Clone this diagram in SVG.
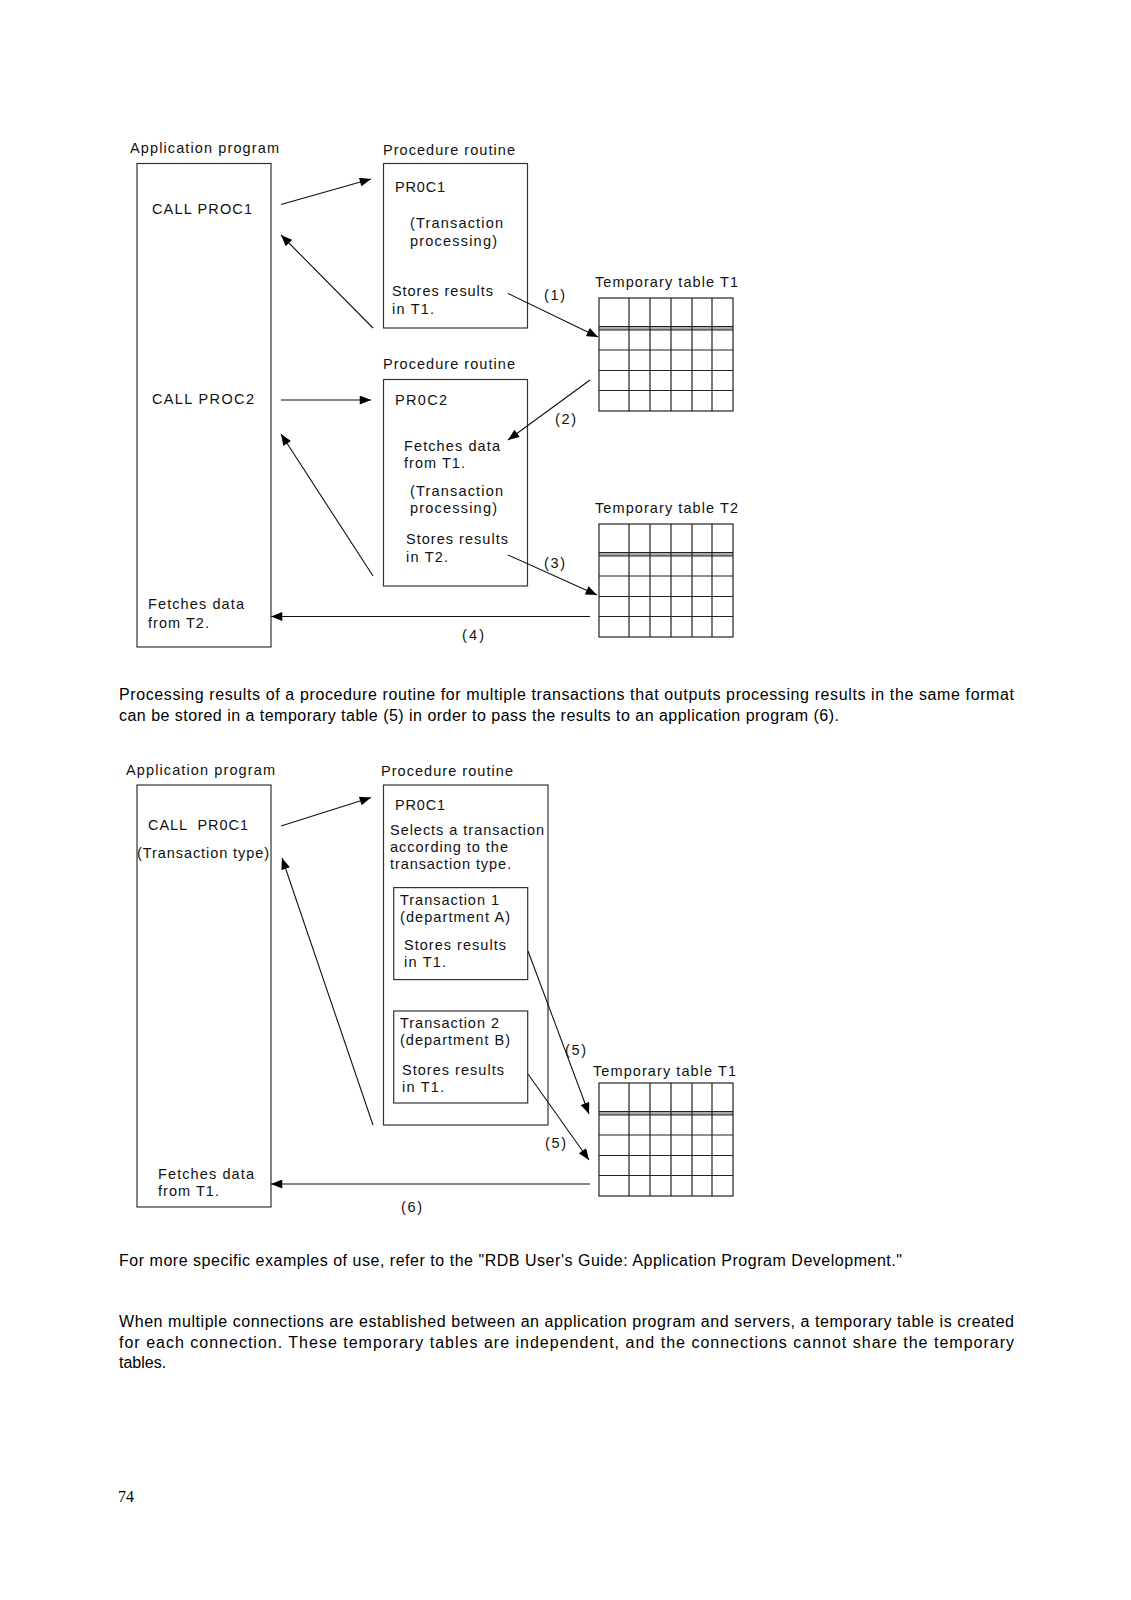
<svg xmlns="http://www.w3.org/2000/svg" width="1131" height="1600" viewBox="0 0 1131 1600">
<defs>
<style>
.lbl{font-family:"Liberation Sans",Arial,sans-serif;font-size:14.5px;fill:#111}
.para{font-family:"Liberation Sans",Arial,sans-serif;font-size:16px;fill:#000}
.pg{font-family:"Liberation Serif","Times New Roman",serif;font-size:16px;fill:#000}
.box{fill:none;stroke:#333;stroke-width:1.2}
.grid{stroke:#222;stroke-width:1.2;fill:none}
.conn{stroke:#111;stroke-width:1.1;fill:none;marker-end:url(#ah)}
</style>
<marker id="ah" viewBox="0 0 10 8" refX="10" refY="4" markerWidth="12" markerHeight="9" markerUnits="userSpaceOnUse" orient="auto"><path d="M0,0 L10,4 L0,8 z" fill="#000"/></marker>
<g id="tbl">
<rect x="0" y="29" width="134" height="3" fill="#aaa"/>
<rect x="0" y="0" width="134" height="113" class="grid"/>
<path class="grid" d="M0,28.5 H134 M0,32 H134 M0,52 H134 M0,72.5 H134 M0,92.5 H134 M30,0 V113 M51,0 V113 M72,0 V113 M93,0 V113 M113,0 V113"/>
</g>
</defs>
<rect width="1131" height="1600" fill="#fff"/>

<!-- Diagram 1 -->
<g id="app1">
<text class="lbl" x="130" y="153" textLength="149">Application program</text>
<rect class="box" x="137" y="163.5" width="134" height="483.5"/>
<text class="lbl" x="152" y="214" textLength="100">CALL PROC1</text>
<text class="lbl" x="152" y="404" textLength="102">CALL PROC2</text>
<text class="lbl" x="148" y="609" textLength="96">Fetches data</text>
<text class="lbl" x="148" y="628" textLength="61">from T2.</text>
</g>
<g id="proc1">
<text class="lbl" x="383" y="155" textLength="132">Procedure routine</text>
<rect class="box" x="383.5" y="163.5" width="144" height="164.5"/>
<text class="lbl" x="395" y="192" textLength="50">PR0C1</text>
<text class="lbl" x="410" y="228" textLength="93">(Transaction</text>
<text class="lbl" x="410" y="246" textLength="87">processing)</text>
<text class="lbl" x="392" y="296" textLength="101">Stores results</text>
<text class="lbl" x="392" y="314" textLength="42">in T1.</text>
</g>
<g id="proc2">
<text class="lbl" x="383" y="369" textLength="132">Procedure routine</text>
<rect class="box" x="383.5" y="379.5" width="144" height="206.5"/>
<text class="lbl" x="395" y="405" textLength="52">PR0C2</text>
<text class="lbl" x="404" y="451" textLength="96">Fetches data</text>
<text class="lbl" x="404" y="468" textLength="61">from T1.</text>
<text class="lbl" x="410" y="496" textLength="93">(Transaction</text>
<text class="lbl" x="410" y="513" textLength="87">processing)</text>
<text class="lbl" x="406" y="544" textLength="102">Stores results</text>
<text class="lbl" x="406" y="562" textLength="42">in T2.</text>
</g>
<g id="t1a">
<text class="lbl" x="595" y="287" textLength="143">Temporary table T1</text>
<use href="#tbl" x="599" y="298"/>
</g>
<g id="t2">
<text class="lbl" x="595" y="513" textLength="143">Temporary table T2</text>
<use href="#tbl" x="599" y="524"/>
</g>

<!-- Diagram 2 -->
<g id="app2">
<text class="lbl" x="126" y="775" textLength="149">Application program</text>
<rect class="box" x="137" y="785" width="134" height="422"/>
<text class="lbl" x="148" y="830" textLength="100" xml:space="preserve">CALL  PR0C1</text>
<text class="lbl" x="137" y="858" textLength="132">(Transaction type)</text>
<text class="lbl" x="158" y="1179" textLength="96">Fetches data</text>
<text class="lbl" x="158" y="1196" textLength="61">from T1.</text>
</g>
<g id="proc3">
<text class="lbl" x="381" y="776" textLength="132">Procedure routine</text>
<rect class="box" x="383.5" y="785" width="164.5" height="340"/>
<text class="lbl" x="395" y="810" textLength="50">PR0C1</text>
<text class="lbl" x="390" y="835" textLength="154">Selects a transaction</text>
<text class="lbl" x="390" y="852" textLength="118">according to the</text>
<text class="lbl" x="390" y="869" textLength="121">transaction type.</text>
</g>
<g id="tx1">
<rect class="box" x="393.7" y="887.6" width="134" height="92"/>
<text class="lbl" x="400" y="905" textLength="99">Transaction 1</text>
<text class="lbl" x="400" y="922" textLength="110">(department A)</text>
<text class="lbl" x="404" y="950" textLength="102">Stores results</text>
<text class="lbl" x="404" y="967" textLength="42">in T1.</text>
</g>
<g id="tx2">
<rect class="box" x="393.7" y="1011" width="134" height="92"/>
<text class="lbl" x="400" y="1028" textLength="99">Transaction 2</text>
<text class="lbl" x="400" y="1045" textLength="110">(department B)</text>
<text class="lbl" x="402" y="1075" textLength="102">Stores results</text>
<text class="lbl" x="402" y="1092" textLength="42">in T1.</text>
</g>
<g id="t1b">
<text class="lbl" x="593" y="1076" textLength="143">Temporary table T1</text>
<use href="#tbl" x="599" y="1083"/>
</g>

<g id="connectors">
<path class="conn" d="M281,204.5 L371,179"/>
<path class="conn" d="M373,328 L281,235"/>
<path class="conn" d="M508,293.5 L598,337"/>
<path class="conn" d="M281,400 L371,400"/>
<path class="conn" d="M590,380 L508,440"/>
<path class="conn" d="M373,576 L281,434"/>
<path class="conn" d="M508,555 L597,595"/>
<path class="conn" d="M590,616.5 L271,616.5"/>
<path class="conn" d="M281,826 L371,797.6"/>
<path class="conn" d="M373,1125 L282,858"/>
<path class="conn" d="M528,951 L589,1114"/>
<path class="conn" d="M528,1074 L589,1160"/>
<path class="conn" d="M590,1184 L271,1184"/>
</g>
<g id="connector-labels">
<text class="lbl" x="544" y="300" textLength="21">(1)</text>
<text class="lbl" x="555" y="424" textLength="21">(2)</text>
<text class="lbl" x="544" y="568" textLength="21">(3)</text>
<text class="lbl" x="462" y="640" textLength="22">(4)</text>
<text class="lbl" x="565" y="1055" textLength="21">(5)</text>
<text class="lbl" x="545" y="1148" textLength="21">(5)</text>
<text class="lbl" x="401" y="1212" textLength="21">(6)</text>
</g>

<g id="body-text">
<text class="para" x="119" y="700" textLength="895">Processing results of a procedure routine for multiple transactions that outputs processing results in the same format</text>
<text class="para" x="119" y="721" textLength="720">can be stored in a temporary table (5) in order to pass the results to an application program (6).</text>
<text class="para" x="119" y="1266" textLength="783">For more specific examples of use, refer to the "RDB User's Guide: Application Program Development."</text>
<text class="para" x="119" y="1327" textLength="895">When multiple connections are established between an application program and servers, a temporary table is created</text>
<text class="para" x="119" y="1348" textLength="895">for each connection. These temporary tables are independent, and the connections cannot share the temporary</text>
<text class="para" x="119" y="1368">tables.</text>
<text class="pg" x="118" y="1502">74</text>
</g>
</svg>
